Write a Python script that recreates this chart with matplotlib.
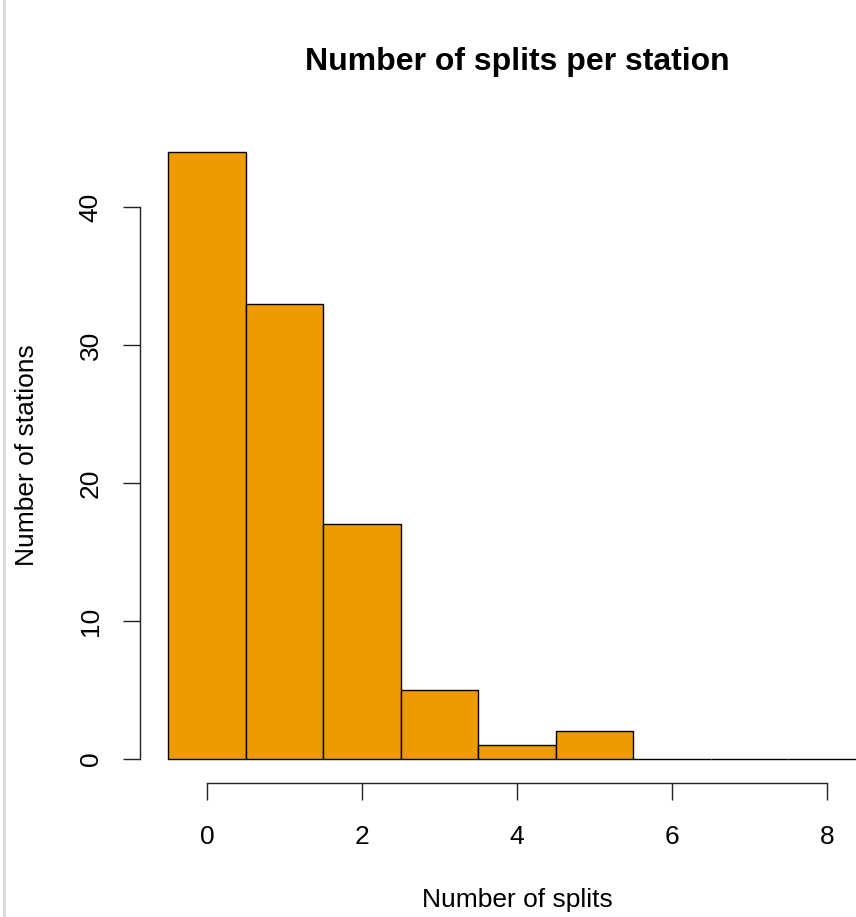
import matplotlib
matplotlib.use('Agg')
import matplotlib.pyplot as plt
from matplotlib.lines import Line2D

# histogram of splits per station (unit bins centred on integers)
bin_left = [-0.5, 0.5, 1.5, 2.5, 3.5, 4.5, 5.5, 6.5, 7.5]
counts = [44, 33, 17, 5, 1, 2, 0, 0, 0]
xticks = [0, 2, 4, 6, 8]
yticks = [0, 10, 20, 30, 40]

plt.rcParams['font.family'] = ['Liberation Sans', 'DejaVu Sans']

W, H = 856, 917
fig = plt.figure(figsize=(W / 100, H / 100), dpi=100)

# R-style plot region: xlim/ylim extended by 4%
x0, x1 = -0.86, 8.86
y0, y1 = -1.76, 45.76
left_px, right_px = 140.3, 893.7
bot_px, top_px = 783.3, 127.5
ax = fig.add_axes([left_px / W, 1 - bot_px / H,
                   (right_px - left_px) / W, (bot_px - top_px) / H])
ax.set_xlim(x0, x1)
ax.set_ylim(y0, y1)
ax.patch.set_alpha(0)

ax.bar(bin_left, counts, width=1.0, align='edge', color='#EE9A00',
       edgecolor='black', linewidth=1.0, clip_on=False)

for s in ['top', 'right']:
    ax.spines[s].set_visible(False)
ax.spines['left'].set_bounds(0, 40)
ax.spines['bottom'].set_bounds(0, 8)
for s in ['left', 'bottom']:
    ax.spines[s].set_linewidth(1.0)
    ax.spines[s].set_color('#222222')

ax.set_xticks(xticks)
ax.set_yticks(yticks)
ax.tick_params(axis='both', length=12, width=1.0, color='#222222', labelsize=19)
ax.tick_params(axis='x', pad=18)
ax.tick_params(axis='y', pad=15)
for lab in ax.get_yticklabels():
    lab.set_rotation(90)
    lab.set_va('center')

fig.text(517 / W, 1 - 62 / H, 'Number of splits per station', ha='center',
         va='center', fontsize=23, fontweight='bold')
fig.text(517 / W, 1 - 900 / H, 'Number of splits', ha='center', va='center',
         fontsize=19)
fig.text(27 / W, 1 - 455 / H, 'Number of stations', ha='center', va='center',
         fontsize=19, rotation=90)

# thin grey border line at the left edge
fig.add_artist(Line2D([4 / W, 4 / W], [0, 1], color='#d8d8d8', linewidth=2,
                      transform=fig.transFigure))

fig.savefig('out.png', dpi=100)
